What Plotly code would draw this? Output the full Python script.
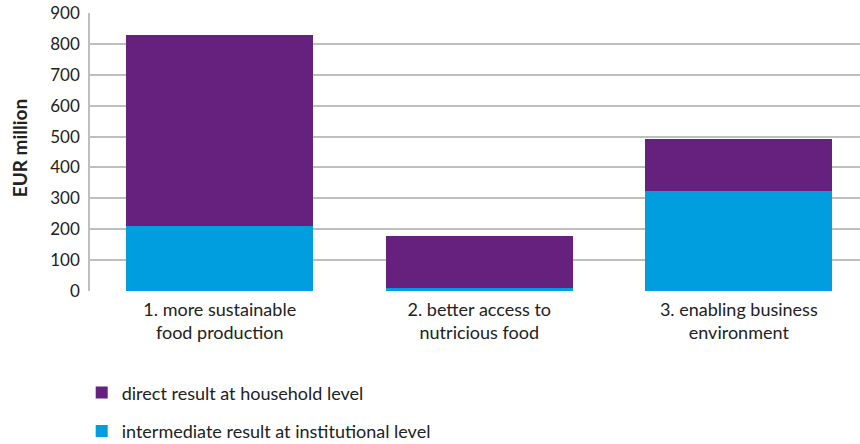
import plotly.graph_objects as go

categories = ["1. more sustainable<br>food production", "2. better access to<br>nutricious food", "3. enabling business<br>environment"]
intermediate = [210, 9, 324]
direct = [620, 170, 167]
series_names = ["direct result at household level", "intermediate result at institutional level"]
y_ticks = [0, 100, 200, 300, 400, 500, 600, 700, 800, 900]

PURPLE = "#66217E"
BLUE = "#009DDF"
FONT = "Lato"

fig = go.Figure()
fig.add_trace(go.Bar(x=[0, 1, 2], y=intermediate, name=series_names[1], marker=dict(color=BLUE, line=dict(width=0)), legendgroup="b", legendrank=2))
fig.add_trace(go.Bar(x=[0, 1, 2], y=direct, name=series_names[0], marker=dict(color=PURPLE, line=dict(width=0)), legendgroup="a", legendrank=1))

fig.update_layout(
    width=860, height=444,
    margin=dict(l=90, r=0, t=13, b=153, autoexpand=False),
    barmode="stack", bargap=0.28,
    plot_bgcolor="white", paper_bgcolor="white",
    font=dict(family=FONT, size=18, color="#222222"),
    xaxis=dict(tickmode="array", tickvals=[0, 1, 2], ticktext=categories, range=[-0.5, 2.467], tickangle=0,
               showgrid=False, showline=False, zeroline=False, ticks="", tickfont=dict(size=18),
               ticklabelstandoff=6),
    yaxis=dict(range=[0, 900], tickvals=y_ticks, showgrid=True, gridcolor="#BEBEBE", gridwidth=1.5,
               showline=True, linecolor="#BEBEBE", linewidth=1.5, zeroline=False, ticks="",
               ticklabelstandoff=5, tickfont=dict(size=17)),
    annotations=[dict(text="<b>EUR million</b>", xref="paper", yref="paper", x=-0.092, y=0.514,
                      xanchor="center", yanchor="middle", textangle=-90, showarrow=False,
                      font=dict(size=19, color="#222222"))],
    legend=dict(orientation="v", xref="container", yref="container", x=0.095, y=0.157, xanchor="left", yanchor="top",
                traceorder="grouped", tracegroupgap=12, font=dict(size=18), itemwidth=30),
    showlegend=True,
)

fig.write_html("out.html")
